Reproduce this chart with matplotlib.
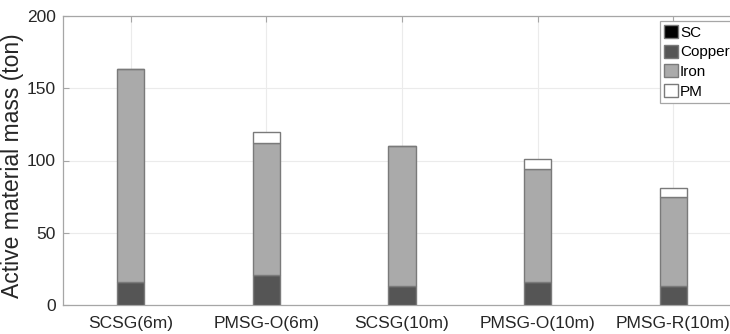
import numpy as np
import matplotlib.pyplot as plt

plt.rcParams['font.family'] = ['Liberation Sans', 'DejaVu Sans']

machines = ["SCSG(6m)", "PMSG-O(6m)", "SCSG(10m)", "PMSG-O(10m)", "PMSG-R(10m)"]
sc = [0, 0, 0, 0, 0]
copper = [16, 21, 13, 16, 13]
iron = [147, 91, 97, 78, 62]
pm = [0, 8, 0, 7, 6]

layers = [("SC", sc, "#000000"),
          ("Copper", copper, "#555555"),
          ("Iron", iron, "#aaaaaa"),
          ("PM", pm, "#ffffff")]

fig = plt.figure(figsize=(7.3, 3.34), dpi=100)
ax = fig.add_axes([63 / 730, 29 / 334, 678 / 730, 289 / 334])

x = np.arange(1, len(machines) + 1)
bottom = np.zeros(len(machines))
for name, vals, col in layers:
    vals = np.array(vals, dtype=float)
    ax.bar(x, vals, 0.2, bottom=bottom, color=col, edgecolor="#7a7a7a",
           linewidth=1.0, label=name, zorder=3)
    bottom += vals

ax.set_xlim(0.5, 5.5)
ax.set_ylim(0, 200)
ax.set_yticks([0, 50, 100, 150, 200])
ax.set_xticks(x)
ax.set_xticklabels(machines)
ax.grid(True, color="#ebebeb", linewidth=0.8, zorder=0)
ax.set_axisbelow(True)

for s in ax.spines.values():
    s.set_color("#a6a6a6")
    s.set_linewidth(0.9)
ax.tick_params(direction="in", length=4, color="#a6a6a6", top=True, right=True,
               labelsize=12.5, labelcolor="#262626")
ax.tick_params(axis="x", pad=8)
ax.tick_params(axis="y", pad=5)

ax.set_ylabel("Active material mass (ton)", fontsize=16.5, color="#262626")
ax.yaxis.set_label_coords(-39 / 678, 0.483)

leg = ax.legend(loc="upper left", bbox_to_anchor=(660 / 730, 1 - 21 / 334),
                bbox_transform=fig.transFigure, fontsize=11, fancybox=False,
                framealpha=1, edgecolor="#a6a6a6", handlelength=0.95,
                handleheight=0.95, handletextpad=0.1, labelspacing=0.32,
                borderpad=0.25, borderaxespad=0)
leg.get_frame().set_linewidth(0.9)
for h in leg.legend_handles:
    h.set_edgecolor("#7a7a7a")

fig.savefig("out.png", dpi=100)
